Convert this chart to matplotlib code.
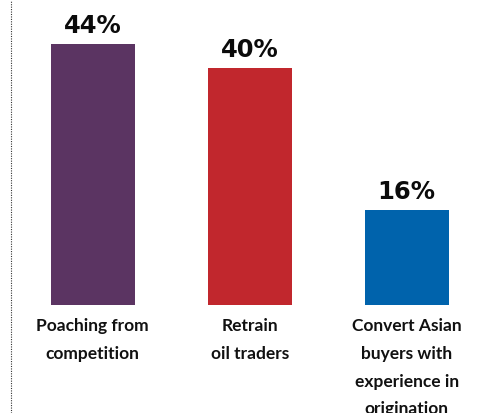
import matplotlib.pyplot as plt
from matplotlib.lines import Line2D

categories = ["Poaching from\ncompetition", "Retrain\noil traders",
              "Convert Asian\nbuyers with\nexperience in\norigination"]
shares = [44, 40, 16]
colors = ["#5b3462", "#c1272d", "#0063ac"]

plt.rcParams["font.family"] = ["Lato", "DejaVu Sans"]

fig = plt.figure(figsize=(4.96, 4.13), dpi=100)
# axes placed so the baseline sits ~108 px from the bottom edge
ax = fig.add_axes([14.2 / 496, 108.5 / 413, 471 / 496, 296 / 413])

x = range(len(shares))
bars = ax.bar(x, shares, width=0.535, color=colors)
for b, v in zip(bars, shares):
    ax.annotate(f"{v}%", xy=(b.get_x() + b.get_width() / 2, v), xytext=(0, 8),
                textcoords="offset points", ha="center", va="baseline",
                fontsize=17.5, fontweight="bold", family="DejaVu Sans",
                color="#0b0b0b")

ax.set_xlim(-0.5, 2.5)
ax.set_ylim(0, 50)
ax.set_xticks(list(x))
ax.set_xticklabels(categories, fontsize=12.5, fontweight="bold", color="#111111")
for lbl in ax.get_xticklabels():
    lbl.set_linespacing(1.9)
ax.tick_params(axis="x", length=0, pad=10)
ax.set_yticks([])
for s in ax.spines.values():
    s.set_visible(False)

# dotted rule down the left edge
fig.add_artist(Line2D([11 / 496, 11 / 496], [0, 1], transform=fig.transFigure,
                      color="#333333", lw=0.8, linestyle=(0, (1, 1.2))))

fig.savefig("out.png", dpi=100)
